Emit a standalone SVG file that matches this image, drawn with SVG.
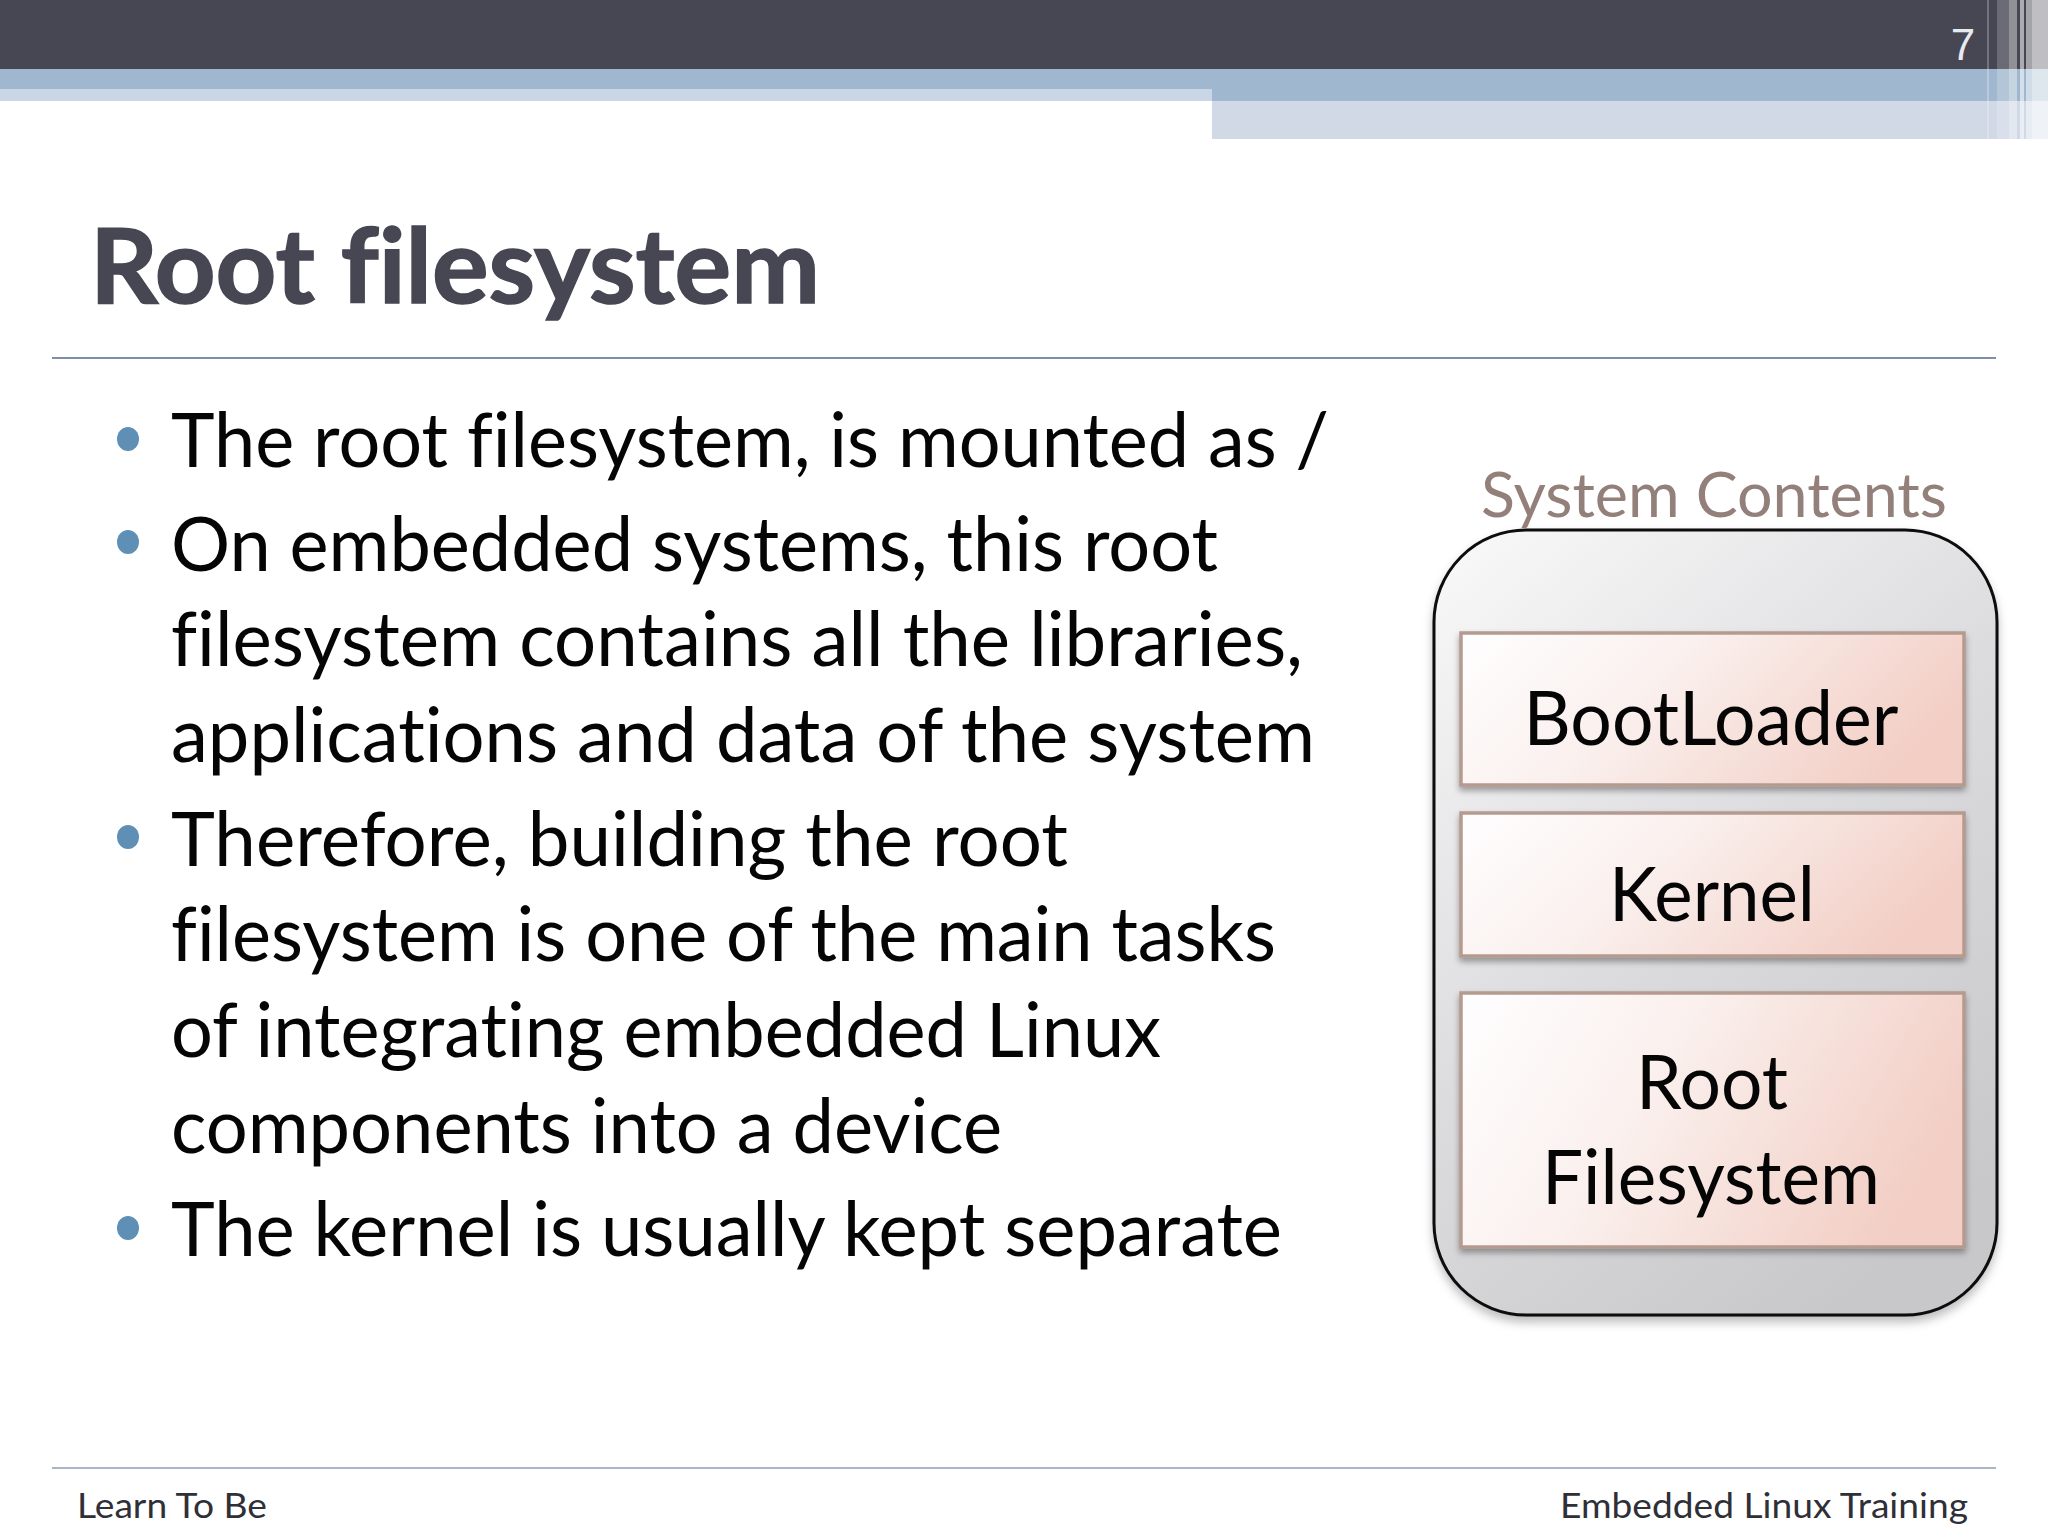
<svg xmlns="http://www.w3.org/2000/svg" width="2048" height="1536" viewBox="0 0 2048 1536">
<style>
text{font-family:"Lato","Carlito","Liberation Sans",sans-serif;font-variant-ligatures:none}
.b{font-size:76px;fill:#050505}
.c{font-size:76px;fill:#050505;text-anchor:middle}
.f{font-size:35px;fill:#2f2f38}
.bu{fill:#5f8fb5}
.box{fill:url(#boxg);stroke:#b59a90;stroke-width:3.5;filter:url(#sh)}
.st{fill:#fff}
</style>
<defs>
<linearGradient id="boxg" x1="0" y1="0.15" x2="1" y2="0.45"><stop offset="0" stop-color="#fefdfd"/><stop offset="0.4" stop-color="#faf0ee"/><stop offset="1" stop-color="#f2cec4"/></linearGradient>
<linearGradient id="pan" x1="0.1" y1="0" x2="0.7" y2="1"><stop offset="0" stop-color="#f7f7f8"/><stop offset="0.5" stop-color="#dcdcde"/><stop offset="1" stop-color="#c8c8cb"/></linearGradient>
<filter id="sh" x="-5%" y="-5%" width="110%" height="115%"><feDropShadow dx="0" dy="4" stdDeviation="3" flood-color="#000" flood-opacity="0.35"/></filter>
<filter id="sh2" x="-5%" y="-5%" width="110%" height="110%"><feDropShadow dx="0" dy="6" stdDeviation="5" flood-color="#000" flood-opacity="0.25"/></filter>
</defs>
<rect width="2048" height="1536" fill="#fff"/>
<g id="header">
<rect x="1212" y="100" width="836" height="39" fill="#d1d9e7"/>
<rect x="0" y="69" width="2048" height="21" fill="#a0b8cf"/>
<rect x="0" y="89" width="1212" height="12" fill="#c8d6e6"/>
<rect x="1212" y="89" width="836" height="12" fill="#a0b8cf"/>
<rect x="0" y="0" width="2048" height="69" fill="#474653"/>
<g id="stripes">
<rect class="st" x="1987" y="0" width="2" height="139" opacity="0.25"/>
<rect class="st" x="1997" y="0" width="12" height="139" opacity="0.2"/>
<rect class="st" x="2009" y="0" width="8" height="139" opacity="0.4"/>
<rect class="st" x="2020" y="0" width="4" height="139" opacity="0.55"/>
<rect class="st" x="2026" y="0" width="6" height="139" opacity="0.5"/>
<rect class="st" x="2032" y="0" width="16" height="139" opacity="0.65"/>
</g>
<text x="1963" y="60" font-size="44" fill="#e8eaf2" text-anchor="middle" style="font-family:'Liberation Sans',sans-serif">7</text>
</g>
<g id="title">
<text x="90" y="303" font-size="103" font-weight="700" fill="#474653" stroke="#474653" stroke-width="1.5" textLength="730" lengthAdjust="spacingAndGlyphs">Root filesystem</text>
<rect x="52" y="357" width="1944" height="2" fill="#7f8fa9"/>
</g>
<g id="bullets">
<ellipse class="bu" cx="128" cy="439" rx="11" ry="12"/>
<ellipse class="bu" cx="128" cy="542" rx="11" ry="12"/>
<ellipse class="bu" cx="128" cy="837" rx="11" ry="12"/>
<ellipse class="bu" cx="128" cy="1228" rx="11" ry="12"/>
</g>
<g id="body">
<text class="b" x="171" y="467" textLength="1158" lengthAdjust="spacingAndGlyphs">The root filesystem, is mounted as /</text>
<text class="b" x="171" y="570.5" textLength="1047" lengthAdjust="spacingAndGlyphs">On embedded systems, this root</text>
<text class="b" x="171" y="666" textLength="1132" lengthAdjust="spacingAndGlyphs">filesystem contains all the libraries,</text>
<text class="b" x="171" y="762" textLength="1144" lengthAdjust="spacingAndGlyphs">applications and data of the system</text>
<text class="b" x="171" y="866" textLength="897" lengthAdjust="spacingAndGlyphs">Therefore, building the root</text>
<text class="b" x="171" y="961" textLength="1105" lengthAdjust="spacingAndGlyphs">filesystem is one of the main tasks</text>
<text class="b" x="171" y="1057" textLength="990" lengthAdjust="spacingAndGlyphs">of integrating embedded Linux</text>
<text class="b" x="171" y="1153" textLength="831" lengthAdjust="spacingAndGlyphs">components into a device</text>
<text class="b" x="171" y="1256" textLength="1111" lengthAdjust="spacingAndGlyphs">The kernel is usually kept separate</text>
</g>
<g id="system-contents">
<rect x="1434" y="530" width="563" height="785" rx="92" ry="92" fill="url(#pan)" stroke="#0c0c0c" stroke-width="3" filter="url(#sh2)"/>
<text x="1714" y="517" font-size="62" fill="#94807a" text-anchor="middle" textLength="466" lengthAdjust="spacingAndGlyphs">System Contents</text>
</g>
<g id="bootloader">
<rect class="box" x="1461" y="633" width="503" height="152"/>
<text class="c" x="1711" y="745" textLength="375" lengthAdjust="spacingAndGlyphs">BootLoader</text>
</g>
<g id="kernel">
<rect class="box" x="1461" y="813" width="503" height="143"/>
<text class="c" x="1712" y="921" textLength="206" lengthAdjust="spacingAndGlyphs">Kernel</text>
</g>
<g id="root-filesystem">
<rect class="box" x="1461" y="993" width="503" height="254"/>
<text class="c" x="1712" y="1109" textLength="152" lengthAdjust="spacingAndGlyphs">Root</text>
<text class="c" x="1711" y="1204" textLength="338" lengthAdjust="spacingAndGlyphs">Filesystem</text>
</g>
<g id="footer">
<rect x="52" y="1467" width="1944" height="2" fill="#a8b6c8"/>
<text class="f" x="77" y="1518" textLength="190" lengthAdjust="spacingAndGlyphs">Learn To Be</text>
<text class="f" x="1560" y="1518" textLength="408" lengthAdjust="spacingAndGlyphs">Embedded Linux Training</text>
</g>
</svg>
